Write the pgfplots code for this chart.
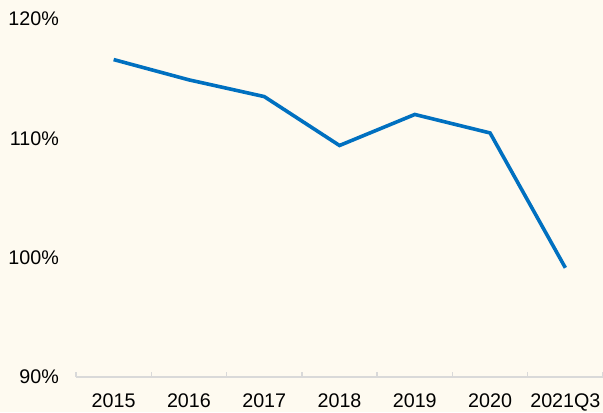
\documentclass[border=0pt]{standalone}
\usepackage{pgfplots}
\pgfplotsset{compat=1.18}
\usepackage{fontspec}
\setmainfont{Liberation Sans}
\definecolor{bg}{RGB}{254,250,240}
\definecolor{linecol}{RGB}{0,112,192}
\definecolor{axgray}{RGB}{217,217,217}
\begin{document}
\begin{tikzpicture}[x=1bp,y=1bp]
\fill[bg] (0,0) rectangle (603,412);
\begin{axis}[
  at={(76bp,35bp)}, anchor=south west,
  scale only axis, width=527bp, height=358bp,
  xmin=-0.5, xmax=6.5, ymin=90, ymax=120,
  axis x line*=bottom, axis y line*=left,
  x axis line style={draw=axgray, line width=1.5bp, -},
  y axis line style={draw=none},
  xtick={0,...,6},
  xticklabels={2015,2016,2017,2018,2019,2020,2021Q3},
  ytick={90,100,110,120},
  yticklabels={90\%,100\%,110\%,120\%},
  major tick length=0pt,
  minor xtick={-0.5,0.5,1.5,2.5,3.5,4.5,5.5,6.5},
  minor tick length=5bp,
  tick align=inside,
  minor x tick style={draw=axgray, line width=1.5bp},
  major tick style={draw=none},
  ytick style={draw=none},
  tick label style={font=\fontsize{19.7bp}{23bp}\selectfont, text=black},
  yticklabel style={inner sep=0pt, anchor=east, xshift=-17bp},
  xticklabel style={inner sep=0pt, anchor=north, yshift=-17bp},
  clip=false,
]
\addplot[color=linecol, line width=3.6bp, mark=none] coordinates {
  (0,116.6) (1,114.9) (2,113.5) (3,109.4) (4,112.0) (5,110.45) (6,99.15)
};
\end{axis}
\pgfresetboundingbox
\path[use as bounding box] (0,0) rectangle (603,412);
\end{tikzpicture}
\end{document}
